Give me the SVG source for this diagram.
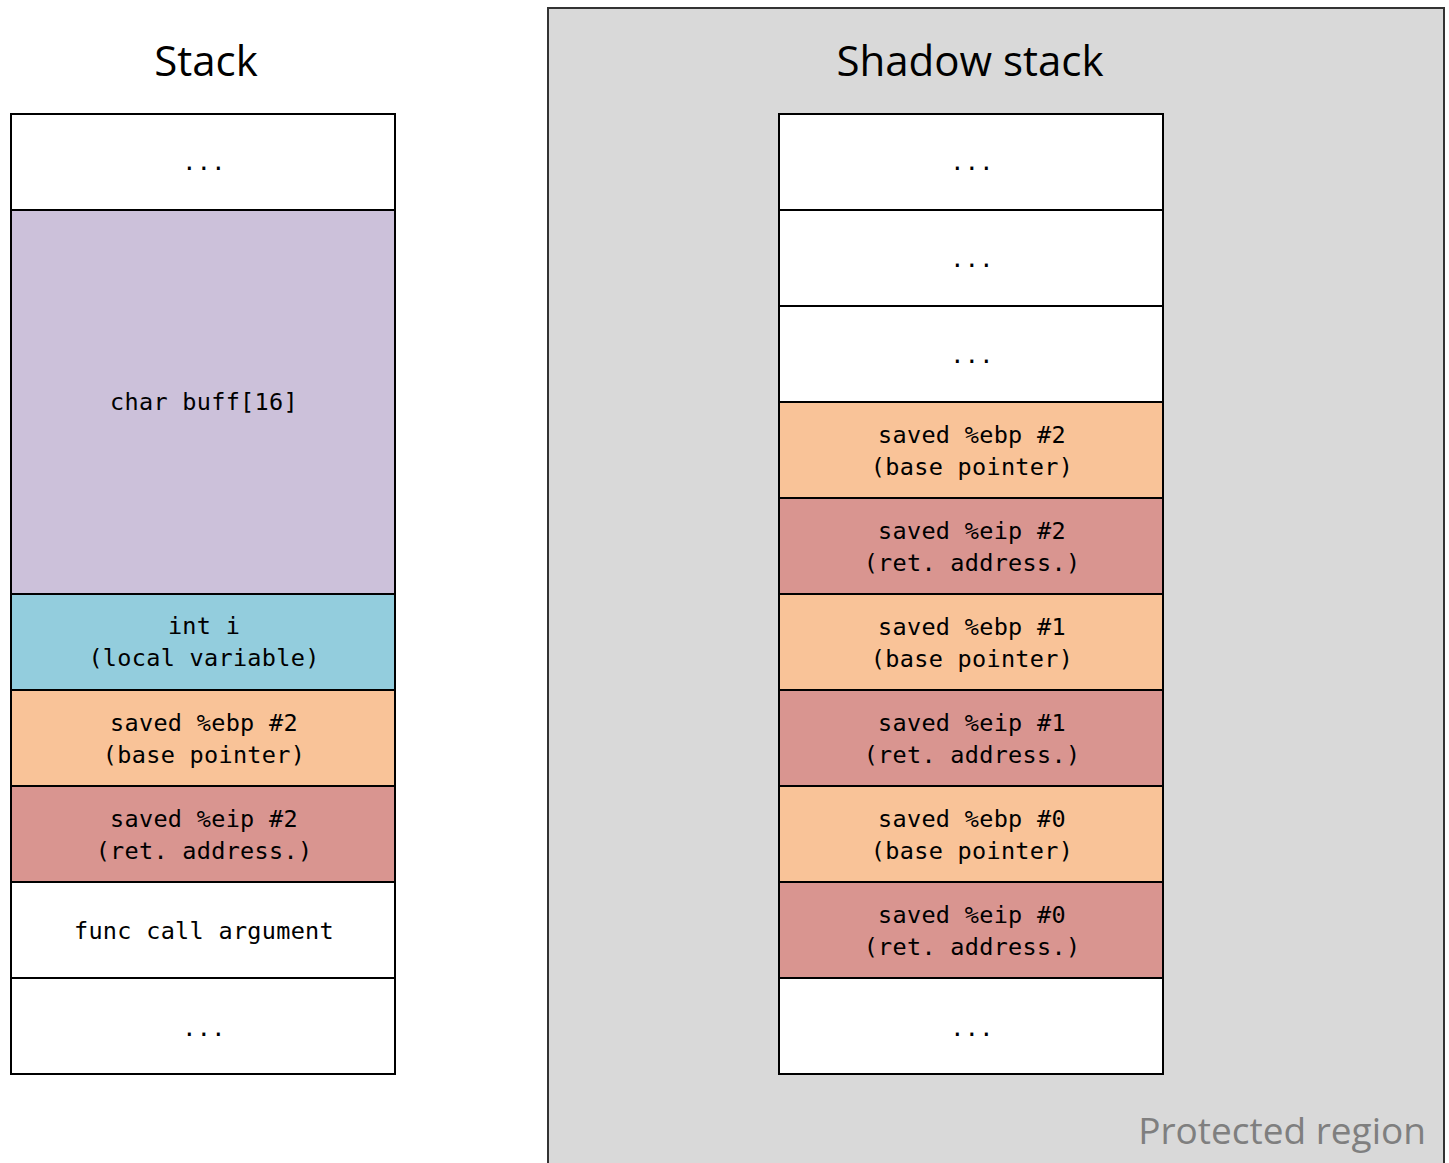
<svg xmlns="http://www.w3.org/2000/svg" width="1449" height="1163" viewBox="0 0 1449 1163">
  <style>
    .cell { stroke: #000; stroke-width: 2; }
    .blank { fill: #ffffff; }
    .buf { fill: #ccc1da; }
    .local { fill: #93cddd; }
    .ebp { fill: #f9c398; }
    .eip { fill: #d99590; }
    .mono { font-family: "DejaVu Sans Mono", "Liberation Mono", monospace; font-size: 23.5px; letter-spacing: 0.3px; fill: #000; text-anchor: middle; }
    .title { font-family: "Open Sans", "Liberation Sans", sans-serif; font-size: 42px; fill: #000; text-anchor: middle; }
  </style>

  <rect width="1449" height="1163" fill="#ffffff"/>

  <!-- protected region backdrop -->
  <g id="protected-region">
    <rect x="548" y="8" width="896" height="1170" fill="#d9d9d9" stroke="#333" stroke-width="2"/>
    <text x="1426" y="1144" font-family="Open Sans, Liberation Sans, sans-serif" font-size="37" fill="#7f7f7f" text-anchor="end">Protected region</text>
  </g>

  <text class="title" x="206" y="76">Stack</text>
  <text class="title" x="970" y="76">Shadow stack</text>

  <!-- regular stack -->
  <g id="stack">
    <g id="stack-top">
      <rect class="cell blank" x="11" y="114" width="384" height="96"/>
      <text class="mono" x="204" y="170">...</text>
    </g>
    <g id="stack-buff">
      <rect class="cell buf" x="11" y="210" width="384" height="384"/>
      <text class="mono" x="204" y="410">char buff[16]</text>
    </g>
    <g id="stack-int">
      <rect class="cell local" x="11" y="594" width="384" height="96"/>
      <text class="mono" x="204" y="634">int i</text>
      <text class="mono" x="204" y="666">(local variable)</text>
    </g>
    <g id="stack-ebp2">
      <rect class="cell ebp" x="11" y="690" width="384" height="96"/>
      <text class="mono" x="204" y="731">saved %ebp #2</text>
      <text class="mono" x="204" y="763">(base pointer)</text>
    </g>
    <g id="stack-eip2">
      <rect class="cell eip" x="11" y="786" width="384" height="96"/>
      <text class="mono" x="204" y="827">saved %eip #2</text>
      <text class="mono" x="204" y="859">(ret. address.)</text>
    </g>
    <g id="stack-arg">
      <rect class="cell blank" x="11" y="882" width="384" height="96"/>
      <text class="mono" x="204" y="939">func call argument</text>
    </g>
    <g id="stack-bottom">
      <rect class="cell blank" x="11" y="978" width="384" height="96"/>
      <text class="mono" x="204" y="1036">...</text>
    </g>
  </g>

  <!-- shadow stack -->
  <g id="shadow-stack">
    <g id="shadow-top1">
      <rect class="cell blank" x="779" y="114" width="384" height="96"/>
      <text class="mono" x="972" y="170">...</text>
    </g>
    <g id="shadow-top2">
      <rect class="cell blank" x="779" y="210" width="384" height="96"/>
      <text class="mono" x="972" y="267">...</text>
    </g>
    <g id="shadow-top3">
      <rect class="cell blank" x="779" y="306" width="384" height="96"/>
      <text class="mono" x="972" y="363">...</text>
    </g>
    <g id="shadow-ebp2">
      <rect class="cell ebp" x="779" y="402" width="384" height="96"/>
      <text class="mono" x="972" y="443">saved %ebp #2</text>
      <text class="mono" x="972" y="475">(base pointer)</text>
    </g>
    <g id="shadow-eip2">
      <rect class="cell eip" x="779" y="498" width="384" height="96"/>
      <text class="mono" x="972" y="539">saved %eip #2</text>
      <text class="mono" x="972" y="571">(ret. address.)</text>
    </g>
    <g id="shadow-ebp1">
      <rect class="cell ebp" x="779" y="594" width="384" height="96"/>
      <text class="mono" x="972" y="635">saved %ebp #1</text>
      <text class="mono" x="972" y="667">(base pointer)</text>
    </g>
    <g id="shadow-eip1">
      <rect class="cell eip" x="779" y="690" width="384" height="96"/>
      <text class="mono" x="972" y="731">saved %eip #1</text>
      <text class="mono" x="972" y="763">(ret. address.)</text>
    </g>
    <g id="shadow-ebp0">
      <rect class="cell ebp" x="779" y="786" width="384" height="96"/>
      <text class="mono" x="972" y="827">saved %ebp #0</text>
      <text class="mono" x="972" y="859">(base pointer)</text>
    </g>
    <g id="shadow-eip0">
      <rect class="cell eip" x="779" y="882" width="384" height="96"/>
      <text class="mono" x="972" y="923">saved %eip #0</text>
      <text class="mono" x="972" y="955">(ret. address.)</text>
    </g>
    <g id="shadow-bottom">
      <rect class="cell blank" x="779" y="978" width="384" height="96"/>
      <text class="mono" x="972" y="1036">...</text>
    </g>
  </g>

  <!-- no connectors in this diagram -->
  <g id="connectors"/>
</svg>
